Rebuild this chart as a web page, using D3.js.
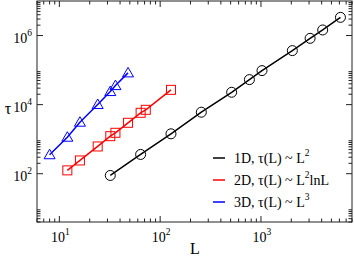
<html>
<script src="https://d3js.org/d3.v7.min.js"></script>
<style>
  body { margin: 0; background: #fff; }
  text { font-family: "Liberation Serif", "DejaVu Serif", serif; fill: #000; }
</style>
<body>
<svg id="chart" width="354" height="257"></svg>
<script>
// 1D: tau ~ L^2
var L1 = [32, 64, 128, 256, 512, 768, 1024, 2048, 3072, 4096, 6144];
var tau1 = [89, 361, 1430, 6030, 22800, 53000, 96600, 366000, 830000, 1450000, 3360000];
// 2D: tau ~ L^2 lnL
var L2 = [12, 16, 24, 32, 36, 48, 64, 72, 128];
var tau2 = [125, 242, 615, 1220, 1530, 2980, 5800, 7080, 26800];
// 3D: tau ~ L^3
var L3 = [8, 12, 16, 24, 32, 36, 48];
var tau3 = [354, 1140, 3100, 10070, 23900, 35600, 83000];

var xTicks = [10, 100, 1000];
var xTickExp = ["1", "2", "3"];
var yTicks = [1e2, 1e4, 1e6];
var yTickExp = ["2", "4", "6"];

var legendNames = ["1D, τ(L) ~ L", "2D, τ(L) ~ L", "3D, τ(L) ~ L"];
var legendSup = ["2", "2", "3"];
var legendTail = ["", "lnL", ""];
var colors = ["#000000", "#ff0000", "#0000ff"];

var svg = d3.select("#chart");
var pLeft = 37, pRight = 352, pTop = 1, pBottom = 222;

var x = d3.scaleLog().domain([6, 8000]).range([pLeft, pRight]);
var y = d3.scaleLog().domain([4, 1e7]).range([pBottom, pTop]);

// minor ticks: x every 2..9 per decade, y only 2..9 x 10^even (major every 2 decades)
var xMinor = [];
[1, 10, 100, 1000].forEach(function(d) {
  for (var k = 2; k <= 9; k++) { var v = d * k; if (v >= 6 && v <= 8000) xMinor.push(v); }
});
var yMinor = [];
[1, 1e2, 1e4, 1e6].forEach(function(d) {
  for (var k = 2; k <= 9; k++) { var v = d * k; if (v >= 4 && v <= 1e7) yMinor.push(v); }
});

var axes = svg.append("g").attr("stroke", "#222").attr("stroke-width", 1);

// frame
axes.append("rect")
  .attr("x", pLeft).attr("y", pTop)
  .attr("width", pRight - pLeft).attr("height", pBottom - pTop)
  .attr("fill", "none");

function tickX(v, len) {
  axes.append("line").attr("x1", x(v)).attr("x2", x(v)).attr("y1", pBottom).attr("y2", pBottom - len);
  axes.append("line").attr("x1", x(v)).attr("x2", x(v)).attr("y1", pTop).attr("y2", pTop + len);
}
function tickY(v, len) {
  axes.append("line").attr("y1", y(v)).attr("y2", y(v)).attr("x1", pLeft).attr("x2", pLeft + len);
  axes.append("line").attr("y1", y(v)).attr("y2", y(v)).attr("x1", pRight).attr("x2", pRight - len);
}
xMinor.forEach(function(v) { tickX(v, 3.5); });
xTicks.forEach(function(v) { tickX(v, 6); });
yMinor.forEach(function(v) { tickY(v, 3.5); });
yTicks.forEach(function(v) { tickY(v, 6); });

// tick labels
xTicks.forEach(function(v, i) {
  var t = svg.append("text").attr("x", x(v) + 1).attr("y", 242)
    .attr("text-anchor", "middle").style("font-size", "14px");
  t.append("tspan").text("10");
  t.append("tspan").attr("dy", -7).style("font-size", "9.5px").text(xTickExp[i]);
});
yTicks.forEach(function(v, i) {
  var t = svg.append("text").attr("x", 32).attr("y", y(v) + 7)
    .attr("text-anchor", "end").style("font-size", "14px");
  t.append("tspan").text("10");
  t.append("tspan").attr("dy", -7).style("font-size", "9.5px").text(yTickExp[i]);
});

// axis titles
svg.append("text").attr("x", 195).attr("y", 254).attr("text-anchor", "middle")
  .style("font-size", "16px").text("L");
svg.append("text").attr("x", 8).attr("y", 114).attr("text-anchor", "middle")
  .style("font-size", "16px").text("τ");

// series
var series = [
  { L: L1, tau: tau1, color: colors[0], shape: "circle" },
  { L: L2, tau: tau2, color: colors[1], shape: "square" },
  { L: L3, tau: tau3, color: colors[2], shape: "triangle" }
];
var line = d3.line().x(function(d) { return x(d[0]); }).y(function(d) { return y(d[1]); });

series.forEach(function(s) {
  var pts = s.L.map(function(v, i) { return [v, s.tau[i]]; });
  svg.append("path").datum(pts).attr("d", line)
    .attr("fill", "none").attr("stroke", s.color).attr("stroke-width", 1.5);
  var g = svg.append("g").attr("fill", "none").attr("stroke", s.color).attr("stroke-width", 1);
  pts.forEach(function(p) {
    var cx = x(p[0]), cy = y(p[1]);
    if (s.shape === "circle") {
      g.append("circle").attr("cx", cx).attr("cy", cy).attr("r", 5);
    } else if (s.shape === "square") {
      g.append("rect").attr("x", cx - 4.5).attr("y", cy - 4.5).attr("width", 9).attr("height", 9);
    } else {
      g.append("path").attr("transform", "translate(" + cx + "," + cy + ")")
        .attr("d", "M0,-5.5L5.5,4L-5.5,4Z");
    }
  });
});

// legend
var legendY = [158, 180, 202];
legendNames.forEach(function(name, i) {
  svg.append("line").attr("x1", 213).attr("x2", 225)
    .attr("y1", legendY[i]).attr("y2", legendY[i])
    .attr("stroke", colors[i]).attr("stroke-width", 1.5);
  var t = svg.append("text").attr("x", 234).attr("y", legendY[i] + 5).style("font-size", "14px");
  t.append("tspan").text(name);
  t.append("tspan").attr("dy", -7).style("font-size", "9.5px").text(legendSup[i]);
  if (legendTail[i]) t.append("tspan").attr("dy", 7).text(legendTail[i]);
});
</script>
</body>
</html>
